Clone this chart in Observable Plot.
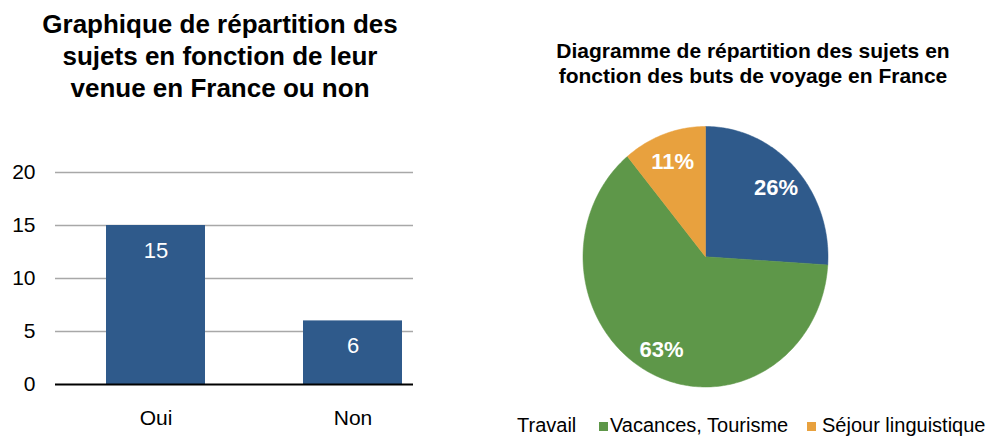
<!DOCTYPE html>
<html><head><meta charset="utf-8">
<script src="https://cdn.jsdelivr.net/npm/d3@7"></script>
<script src="https://cdn.jsdelivr.net/npm/@observablehq/plot@0.6"></script>
<style>
body{margin:0;background:#fff;font-family:"Liberation Sans",Arial,sans-serif;}
#root{position:relative;width:989px;height:436px;overflow:hidden;background:#fff;}
.abs{position:absolute;}
.title{font-weight:bold;text-align:center;color:#000;white-space:nowrap;}
.leg{position:absolute;font-size:20px;color:#000;white-space:nowrap;line-height:1;}
.sw{position:absolute;width:9px;height:9px;}
</style></head><body><div id="root"></div>
<script>
const barCategories = ["Oui", "Non"];
const barValues = [15, 6];
const yTicks = [0, 5, 10, 15, 20];
const pieCategories = ["Travail", "Vacances, Tourisme", "Séjour linguistique"];
const pieValues = [26, 63, 11];
const pieColors = ["#2F5A8B", "#5E9749", "#E8A13E"];
const barColor = "#2F5A8B";
const barTitle = ["Graphique de répartition des", "sujets en fonction de leur", "venue en France ou non"];
const pieTitle = ["Diagramme de répartition des sujets en", "fonction des buts de voyage en France"];

const root = document.getElementById("root");
const font = '"Liberation Sans", Arial, sans-serif';

// Left title
const t1 = document.createElement("div");
t1.className = "abs title";
t1.style.cssText = "left:0;width:440px;top:8px;font-size:26px;line-height:32px;";
t1.innerHTML = barTitle.join("<br>");
root.appendChild(t1);

// Right title
const t2 = document.createElement("div");
t2.className = "abs title";
t2.style.cssText = "left:553px;width:400px;top:39px;font-size:21px;line-height:24.5px;";
t2.innerHTML = pieTitle.join("<br>");
root.appendChild(t2);

// Bar chart
const barData = barCategories.map((c, i) => ({cat: c, value: barValues[i]}));
const bar = Plot.plot({
  width: 413, height: 286,
  marginLeft: 55, marginRight: 0, marginTop: 22, marginBottom: 52,
  style: {fontFamily: font, fontSize: "21px", color: "#000", background: "transparent"},
  x: {domain: barCategories, range: [56, 451], paddingInner: 0.5, paddingOuter: 0.25, label: null, tickSize: 0, tickPadding: 26},
  y: {domain: [0, 20], ticks: yTicks, label: null, tickSize: 0, tickPadding: 20},
  marks: [
    Plot.ruleY(yTicks.filter(d => d > 0), {stroke: "#a8a8a8", strokeWidth: 1.5}),
    Plot.barY(barData, {x: "cat", y: "value", fill: barColor}),
    Plot.ruleY([0], {stroke: "#000", strokeWidth: 2}),
    Plot.text(barData, {x: "cat", y: "value", text: d => String(d.value), dy: 25, fill: "white", fontSize: 22})
  ]
});
bar.style.position = "absolute";
bar.style.left = "0px";
bar.style.top = "150px";
root.appendChild(bar);

// Pie chart
const arcs = d3.pie().sort(null)(pieValues).map((a, i) => ({
  name: pieCategories[i], value: pieValues[i], color: pieColors[i], a0: a.startAngle, a1: a.endAngle
}));
function arcPoints(s) {
  const pts = [{x: 0, y: 0}];
  const n = Math.max(2, Math.ceil((s.a1 - s.a0) / (Math.PI / 180)));
  for (let k = 0; k <= n; k++) {
    const a = s.a0 + (s.a1 - s.a0) * k / n;
    pts.push({x: Math.sin(a), y: Math.cos(a)});
  }
  pts.push({x: 0, y: 0});
  return pts;
}
const labelR = 0.79;
const pie = Plot.plot({
  width: 290, height: 300,
  margin: 0,
  style: {fontFamily: font, background: "transparent"},
  x: {domain: [-1, 1], range: [22.5, 267.5], axis: null},
  y: {domain: [-1, 1], range: [276.5, 16], axis: null},
  marks: [
    ...arcs.map(s => Plot.line(arcPoints(s), {x: "x", y: "y", fill: s.color, stroke: s.color, strokeWidth: 0.5})),
    Plot.text(arcs, {
      x: d => labelR * Math.sin((d.a0 + d.a1) / 2),
      y: d => labelR * Math.cos((d.a0 + d.a1) / 2),
      text: d => d.value + "%", fill: "white", fontWeight: "bold", fontSize: 22, dy: 2
    })
  ]
});
pie.style.position = "absolute";
pie.style.left = "560px";
pie.style.top = "110px";
root.appendChild(pie);

// Legend
const legPos = [
  {text: 517, sw: null},
  {text: 610, sw: 599},
  {text: 822, sw: 807}
];
pieCategories.forEach((c, i) => {
  const p = legPos[i];
  if (p.sw !== null) {
    const sw = document.createElement("div");
    sw.className = "sw";
    sw.style.left = p.sw + "px";
    sw.style.top = "422px";
    sw.style.background = pieColors[i];
    root.appendChild(sw);
  }
  const tx = document.createElement("div");
  tx.className = "leg";
  tx.style.left = p.text + "px";
  tx.style.top = "415px";
  tx.textContent = c;
  root.appendChild(tx);
});
</script></body></html>
